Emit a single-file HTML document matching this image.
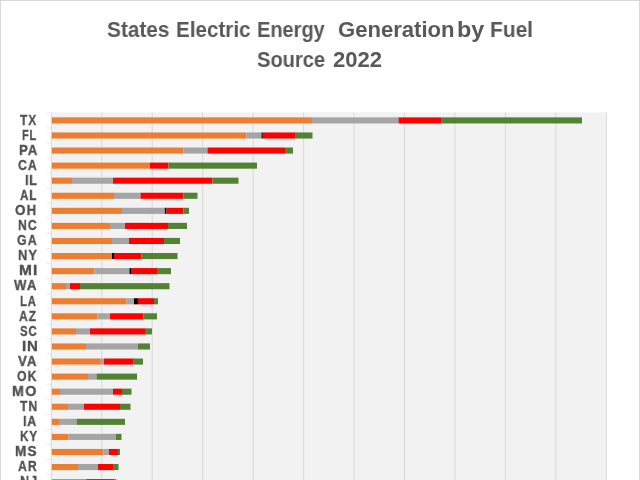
<!DOCTYPE html>
<html><head><meta charset="utf-8"><style>
html,body{margin:0;padding:0;}
body{width:640px;height:480px;overflow:hidden;position:relative;background:#fff;font-family:"Liberation Sans",sans-serif;}
#frame{position:absolute;left:0;top:0;width:638px;height:490px;border:1px solid #d9d9d9;}
svg{position:absolute;left:0;top:0;}
.lb{position:absolute;height:20px;line-height:20px;white-space:pre;font-weight:bold;font-size:15px;color:#505050;transform-origin:0 0;will-change:transform;-webkit-text-stroke:0.35px #505050;}
.t{position:absolute;font-weight:bold;font-size:22px;line-height:30px;color:#595959;white-space:pre;transform-origin:0 0;will-change:transform;}
</style></head><body>
<div id="frame"></div>
<div class="t" style="left:107.15px;top:15px;transform:scaleX(0.9453)">States</div><div class="t" style="left:175.96px;top:15px;transform:scaleX(0.9372)">Electric</div><div class="t" style="left:256.59px;top:15px;transform:scaleX(0.9082)">Energy</div><div class="t" style="left:337.70px;top:15px;transform:scaleX(1.0035)">Generation</div><div class="t" style="left:457.38px;top:15px;transform:scaleX(1.0625)">by</div><div class="t" style="left:489.65px;top:15px;transform:scaleX(0.9512)">Fuel</div><div class="t" style="left:257.39px;top:45px;transform:scaleX(0.9137)">Source</div><div class="t" style="left:333.20px;top:45px;transform:scaleX(1.0021)">2022</div>
<svg width="640" height="480" viewBox="0 0 640 480" shape-rendering="geometricPrecision">
<rect x="51.3" y="112.4" width="555.70" height="372.60" fill="#f2f2f2"/><rect x="101.26" y="112.4" width="1" height="372.60" fill="#d9d9d9"/><rect x="151.72" y="112.4" width="1" height="372.60" fill="#d9d9d9"/><rect x="202.18" y="112.4" width="1" height="372.60" fill="#d9d9d9"/><rect x="252.64" y="112.4" width="1" height="372.60" fill="#d9d9d9"/><rect x="303.10" y="112.4" width="1" height="372.60" fill="#d9d9d9"/><rect x="353.56" y="112.4" width="1" height="372.60" fill="#d9d9d9"/><rect x="404.02" y="112.4" width="1" height="372.60" fill="#d9d9d9"/><rect x="454.48" y="112.4" width="1" height="372.60" fill="#d9d9d9"/><rect x="504.94" y="112.4" width="1" height="372.60" fill="#d9d9d9"/><rect x="555.40" y="112.4" width="1" height="372.60" fill="#d9d9d9"/><rect x="605.86" y="112.4" width="1" height="372.60" fill="#d9d9d9"/><rect x="50.80" y="112.4" width="1" height="372.60" fill="#d9d9d9"/><rect x="46.5" y="112.38" width="4.80" height="1" fill="#eaeaea"/><rect x="46.5" y="127.45" width="4.80" height="1" fill="#eaeaea"/><rect x="46.5" y="142.52" width="4.80" height="1" fill="#eaeaea"/><rect x="46.5" y="157.59" width="4.80" height="1" fill="#eaeaea"/><rect x="46.5" y="172.66" width="4.80" height="1" fill="#eaeaea"/><rect x="46.5" y="187.74" width="4.80" height="1" fill="#eaeaea"/><rect x="46.5" y="202.81" width="4.80" height="1" fill="#eaeaea"/><rect x="46.5" y="217.88" width="4.80" height="1" fill="#eaeaea"/><rect x="46.5" y="232.95" width="4.80" height="1" fill="#eaeaea"/><rect x="46.5" y="248.02" width="4.80" height="1" fill="#eaeaea"/><rect x="46.5" y="263.09" width="4.80" height="1" fill="#eaeaea"/><rect x="46.5" y="278.16" width="4.80" height="1" fill="#eaeaea"/><rect x="46.5" y="293.23" width="4.80" height="1" fill="#eaeaea"/><rect x="46.5" y="308.30" width="4.80" height="1" fill="#eaeaea"/><rect x="46.5" y="323.37" width="4.80" height="1" fill="#eaeaea"/><rect x="46.5" y="338.44" width="4.80" height="1" fill="#eaeaea"/><rect x="46.5" y="353.52" width="4.80" height="1" fill="#eaeaea"/><rect x="46.5" y="368.59" width="4.80" height="1" fill="#eaeaea"/><rect x="46.5" y="383.66" width="4.80" height="1" fill="#eaeaea"/><rect x="46.5" y="398.73" width="4.80" height="1" fill="#eaeaea"/><rect x="46.5" y="413.80" width="4.80" height="1" fill="#eaeaea"/><rect x="46.5" y="428.87" width="4.80" height="1" fill="#eaeaea"/><rect x="46.5" y="443.94" width="4.80" height="1" fill="#eaeaea"/><rect x="46.5" y="459.01" width="4.80" height="1" fill="#eaeaea"/><rect x="46.5" y="474.08" width="4.80" height="1" fill="#eaeaea"/><rect x="46.5" y="489.15" width="4.80" height="1" fill="#eaeaea"/><rect x="51.80" y="117.37" width="260.20" height="6.1" fill="#ED7D31"/><rect x="312.00" y="117.37" width="86.50" height="6.1" fill="#A5A5A5"/><rect x="398.50" y="117.37" width="42.50" height="6.1" fill="#FF0000"/><rect x="441.00" y="117.37" width="141.00" height="6.1" fill="#548235"/><rect x="51.80" y="132.44" width="194.70" height="6.1" fill="#ED7D31"/><rect x="246.50" y="132.44" width="15.00" height="6.1" fill="#A5A5A5"/><rect x="261.50" y="132.44" width="1.30" height="6.1" fill="#000000"/><rect x="262.80" y="132.44" width="32.20" height="6.1" fill="#FF0000"/><rect x="295.00" y="132.44" width="17.50" height="6.1" fill="#548235"/><rect x="51.80" y="147.51" width="131.70" height="6.1" fill="#ED7D31"/><rect x="183.50" y="147.51" width="24.00" height="6.1" fill="#A5A5A5"/><rect x="207.50" y="147.51" width="77.50" height="6.1" fill="#FF0000"/><rect x="285.00" y="147.51" width="8.00" height="6.1" fill="#548235"/><rect x="51.80" y="162.58" width="98.20" height="6.1" fill="#ED7D31"/><rect x="150.00" y="162.58" width="18.50" height="6.1" fill="#FF0000"/><rect x="168.50" y="162.58" width="88.50" height="6.1" fill="#548235"/><rect x="51.80" y="177.65" width="20.20" height="6.1" fill="#ED7D31"/><rect x="72.00" y="177.65" width="41.00" height="6.1" fill="#A5A5A5"/><rect x="113.00" y="177.65" width="99.50" height="6.1" fill="#FF0000"/><rect x="212.50" y="177.65" width="26.00" height="6.1" fill="#548235"/><rect x="51.80" y="192.72" width="62.20" height="6.1" fill="#ED7D31"/><rect x="114.00" y="192.72" width="26.50" height="6.1" fill="#A5A5A5"/><rect x="140.50" y="192.72" width="43.00" height="6.1" fill="#FF0000"/><rect x="183.50" y="192.72" width="14.00" height="6.1" fill="#548235"/><rect x="51.80" y="207.79" width="70.20" height="6.1" fill="#ED7D31"/><rect x="122.00" y="207.79" width="42.80" height="6.1" fill="#A5A5A5"/><rect x="164.80" y="207.79" width="1.70" height="6.1" fill="#000000"/><rect x="166.50" y="207.79" width="17.00" height="6.1" fill="#FF0000"/><rect x="183.50" y="207.79" width="5.50" height="6.1" fill="#548235"/><rect x="51.80" y="222.86" width="58.20" height="6.1" fill="#ED7D31"/><rect x="110.00" y="222.86" width="15.00" height="6.1" fill="#A5A5A5"/><rect x="125.00" y="222.86" width="43.00" height="6.1" fill="#FF0000"/><rect x="168.00" y="222.86" width="19.00" height="6.1" fill="#548235"/><rect x="51.80" y="237.93" width="60.20" height="6.1" fill="#ED7D31"/><rect x="112.00" y="237.93" width="17.00" height="6.1" fill="#A5A5A5"/><rect x="129.00" y="237.93" width="35.00" height="6.1" fill="#FF0000"/><rect x="164.00" y="237.93" width="16.00" height="6.1" fill="#548235"/><rect x="51.80" y="253.00" width="60.20" height="6.1" fill="#ED7D31"/><rect x="112.00" y="253.00" width="2.00" height="6.1" fill="#000000"/><rect x="114.00" y="253.00" width="27.50" height="6.1" fill="#FF0000"/><rect x="141.50" y="253.00" width="36.00" height="6.1" fill="#548235"/><rect x="51.80" y="268.08" width="42.70" height="6.1" fill="#ED7D31"/><rect x="94.50" y="268.08" width="35.00" height="6.1" fill="#A5A5A5"/><rect x="129.50" y="268.08" width="1.50" height="6.1" fill="#000000"/><rect x="131.00" y="268.08" width="26.00" height="6.1" fill="#FF0000"/><rect x="157.00" y="268.08" width="14.00" height="6.1" fill="#548235"/><rect x="51.80" y="283.15" width="14.20" height="6.1" fill="#ED7D31"/><rect x="66.00" y="283.15" width="4.00" height="6.1" fill="#A5A5A5"/><rect x="70.00" y="283.15" width="10.00" height="6.1" fill="#FF0000"/><rect x="80.00" y="283.15" width="89.50" height="6.1" fill="#548235"/><rect x="51.80" y="298.22" width="74.70" height="6.1" fill="#ED7D31"/><rect x="126.50" y="298.22" width="7.50" height="6.1" fill="#A5A5A5"/><rect x="134.00" y="298.22" width="4.00" height="6.1" fill="#000000"/><rect x="138.00" y="298.22" width="16.00" height="6.1" fill="#FF0000"/><rect x="154.00" y="298.22" width="4.00" height="6.1" fill="#548235"/><rect x="51.80" y="313.29" width="45.70" height="6.1" fill="#ED7D31"/><rect x="97.50" y="313.29" width="12.50" height="6.1" fill="#A5A5A5"/><rect x="110.00" y="313.29" width="33.50" height="6.1" fill="#FF0000"/><rect x="143.50" y="313.29" width="13.50" height="6.1" fill="#548235"/><rect x="51.80" y="328.36" width="24.20" height="6.1" fill="#ED7D31"/><rect x="76.00" y="328.36" width="14.00" height="6.1" fill="#A5A5A5"/><rect x="90.00" y="328.36" width="55.00" height="6.1" fill="#FF0000"/><rect x="145.00" y="328.36" width="7.00" height="6.1" fill="#548235"/><rect x="51.80" y="343.43" width="34.20" height="6.1" fill="#ED7D31"/><rect x="86.00" y="343.43" width="52.00" height="6.1" fill="#A5A5A5"/><rect x="138.00" y="343.43" width="12.00" height="6.1" fill="#548235"/><rect x="51.80" y="358.50" width="49.00" height="6.1" fill="#ED7D31"/><rect x="100.80" y="358.50" width="3.20" height="6.1" fill="#A5A5A5"/><rect x="104.00" y="358.50" width="29.70" height="6.1" fill="#FF0000"/><rect x="133.70" y="358.50" width="9.30" height="6.1" fill="#548235"/><rect x="51.80" y="373.57" width="36.20" height="6.1" fill="#ED7D31"/><rect x="88.00" y="373.57" width="8.50" height="6.1" fill="#A5A5A5"/><rect x="96.50" y="373.57" width="40.50" height="6.1" fill="#548235"/><rect x="51.80" y="388.64" width="8.20" height="6.1" fill="#ED7D31"/><rect x="60.00" y="388.64" width="53.00" height="6.1" fill="#A5A5A5"/><rect x="113.00" y="388.64" width="9.00" height="6.1" fill="#FF0000"/><rect x="122.00" y="388.64" width="9.50" height="6.1" fill="#548235"/><rect x="51.80" y="403.71" width="16.20" height="6.1" fill="#ED7D31"/><rect x="68.00" y="403.71" width="16.00" height="6.1" fill="#A5A5A5"/><rect x="84.00" y="403.71" width="36.00" height="6.1" fill="#FF0000"/><rect x="120.00" y="403.71" width="10.50" height="6.1" fill="#548235"/><rect x="51.80" y="418.79" width="7.20" height="6.1" fill="#ED7D31"/><rect x="59.00" y="418.79" width="17.50" height="6.1" fill="#A5A5A5"/><rect x="76.50" y="418.79" width="48.50" height="6.1" fill="#548235"/><rect x="51.80" y="433.86" width="16.70" height="6.1" fill="#ED7D31"/><rect x="68.50" y="433.86" width="47.50" height="6.1" fill="#A5A5A5"/><rect x="116.00" y="433.86" width="5.50" height="6.1" fill="#548235"/><rect x="51.80" y="448.93" width="51.70" height="6.1" fill="#ED7D31"/><rect x="103.50" y="448.93" width="5.50" height="6.1" fill="#A5A5A5"/><rect x="109.00" y="448.93" width="9.00" height="6.1" fill="#FF0000"/><rect x="118.00" y="448.93" width="2.00" height="6.1" fill="#548235"/><rect x="51.80" y="464.00" width="26.20" height="6.1" fill="#ED7D31"/><rect x="78.00" y="464.00" width="20.00" height="6.1" fill="#A5A5A5"/><rect x="98.00" y="464.00" width="15.00" height="6.1" fill="#FF0000"/><rect x="113.00" y="464.00" width="5.50" height="6.1" fill="#548235"/><rect x="51.80" y="479.07" width="34.40" height="6.1" fill="#ED7D31"/><rect x="86.20" y="479.07" width="28.20" height="6.1" fill="#FF0000"/><rect x="114.40" y="479.07" width="1.90" height="6.1" fill="#548235"/>
</svg>
<div class="lb" style="left:20.00px;top:110px;transform:scaleX(0.8015);letter-spacing:1.21px">TX</div><div class="lb" style="left:22.38px;top:125px;transform:scaleX(0.7244);letter-spacing:1.09px">FL</div><div class="lb" style="left:18.52px;top:140px;transform:scaleX(0.8773);letter-spacing:1.15px">PA</div><div class="lb" style="left:17.93px;top:155px;transform:scaleX(0.8202);letter-spacing:1.28px">CA</div><div class="lb" style="left:25.16px;top:170px;transform:scaleX(0.8382);letter-spacing:0.77px">IL</div><div class="lb" style="left:19.72px;top:185px;transform:scaleX(0.7767);letter-spacing:1.21px">AL</div><div class="lb" style="left:15.41px;top:200px;transform:scaleX(0.8908);letter-spacing:1.34px">OH</div><div class="lb" style="left:17.98px;top:215px;transform:scaleX(0.8178);letter-spacing:1.28px">NC</div><div class="lb" style="left:16.87px;top:230px;transform:scaleX(0.8281);letter-spacing:1.34px">GA</div><div class="lb" style="left:17.94px;top:245px;transform:scaleX(0.8608);letter-spacing:1.21px">NY</div><div class="lb" style="left:18.67px;top:260px;transform:scaleX(1.0340);letter-spacing:0.96px">MI</div><div class="lb" style="left:13.80px;top:275px;transform:scaleX(0.8773);letter-spacing:1.53px">WA</div><div class="lb" style="left:20.25px;top:291px;transform:scaleX(0.7520);letter-spacing:1.21px">LA</div><div class="lb" style="left:19.20px;top:306px;transform:scaleX(0.8015);letter-spacing:1.21px">AZ</div><div class="lb" style="left:20.25px;top:321px;transform:scaleX(0.7520);letter-spacing:1.21px">SC</div><div class="lb" style="left:21.72px;top:336px;transform:scaleX(0.9762);letter-spacing:0.83px">IN</div><div class="lb" style="left:18.30px;top:351px;transform:scaleX(0.8856);letter-spacing:1.21px">VA</div><div class="lb" style="left:17.19px;top:366px;transform:scaleX(0.8147);letter-spacing:1.34px">OK</div><div class="lb" style="left:12.05px;top:381px;transform:scaleX(0.9482);letter-spacing:1.47px">MO</div><div class="lb" style="left:19.70px;top:396px;transform:scaleX(0.8163);letter-spacing:1.21px">TN</div><div class="lb" style="left:22.97px;top:411px;transform:scaleX(0.8326);letter-spacing:0.89px">IA</div><div class="lb" style="left:19.72px;top:426px;transform:scaleX(0.7767);letter-spacing:1.21px">KY</div><div class="lb" style="left:15.10px;top:441px;transform:scaleX(0.9042);letter-spacing:1.34px">MS</div><div class="lb" style="left:17.98px;top:456px;transform:scaleX(0.8178);letter-spacing:1.28px">AR</div><div class="lb" style="left:20.16px;top:471px;transform:scaleX(0.8405);letter-spacing:1.09px">NJ</div>
</body></html>
